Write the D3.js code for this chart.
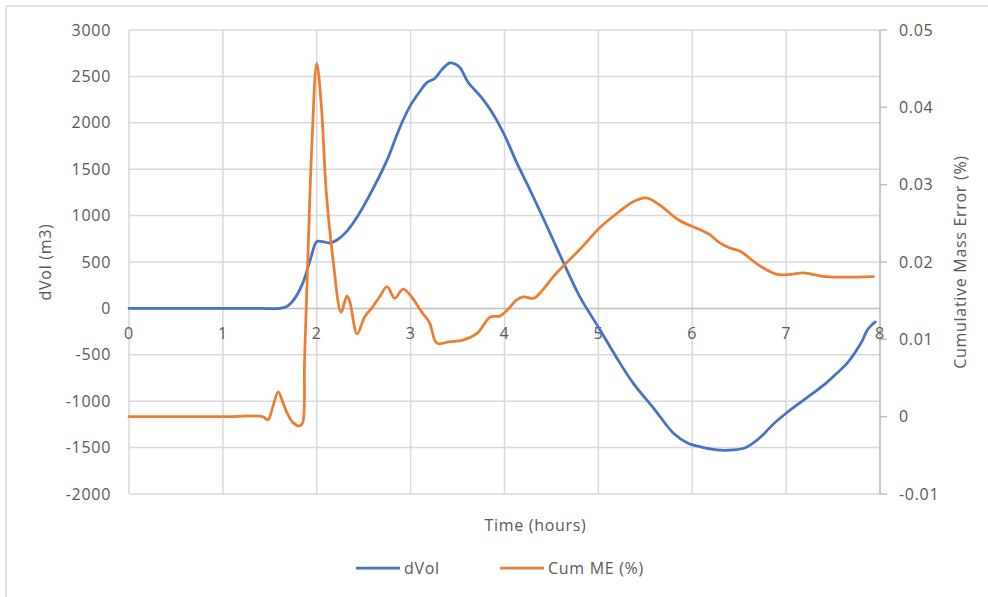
<!DOCTYPE html>
<html>
<head>
<meta charset="utf-8">
<script src="https://cdn.jsdelivr.net/npm/d3@7"></script>
<style>
  html, body { margin: 0; padding: 0; background: #fff; }
  svg text { font-family: "Open Sans", "Segoe UI", sans-serif; fill: #595959; letter-spacing: 0.7px; }
</style>
</head>
<body>
<svg id="chart" width="988" height="597"></svg>
<script>
// dVol (m3) over time (hours)
const dVolTime = [0, 0.5, 1.0, 1.4, 1.6, 1.68, 1.76, 1.85, 1.93, 2.0, 2.06, 2.14, 2.22, 2.32, 2.44, 2.6, 2.75, 2.85, 2.92, 3.0, 3.1, 3.17, 3.26, 3.33, 3.42, 3.48, 3.53, 3.61, 3.75, 3.85, 3.99, 4.13, 4.27, 4.45, 4.63, 4.8, 5.02, 5.2, 5.37, 5.6, 5.8, 5.95, 6.08, 6.26, 6.44, 6.56, 6.65, 6.76, 6.86, 7.0, 7.15, 7.29, 7.42, 7.54, 7.65, 7.75, 7.82, 7.86, 7.91, 7.95];
const dVolValues = [0, 0, 0, 0, 0, 20, 100, 270, 520, 720, 720, 705, 740, 830, 1000, 1290, 1600, 1860, 2030, 2190, 2340, 2430, 2480, 2570, 2645, 2630, 2590, 2440, 2280, 2140, 1890, 1570, 1280, 890, 490, 130, -235, -540, -805, -1090, -1345, -1450, -1490, -1525, -1525, -1505, -1450, -1355, -1250, -1130, -1015, -910, -810, -700, -590, -450, -330, -240, -180, -145];

// Cumulative mass error (%) over time (hours)
const cumMeTime = [0, 0.5, 1.0, 1.42, 1.48, 1.53, 1.59, 1.64, 1.68, 1.75, 1.82, 1.85, 1.87, 1.9, 1.95, 2.0, 2.05, 2.1, 2.17, 2.26, 2.32, 2.35, 2.43, 2.51, 2.59, 2.67, 2.75, 2.83, 2.92, 3.01, 3.12, 3.2, 3.28, 3.42, 3.56, 3.71, 3.85, 3.95, 4.03, 4.13, 4.2, 4.31, 4.4, 4.52, 4.66, 4.8, 5.02, 5.2, 5.37, 5.51, 5.65, 5.86, 6.08, 6.18, 6.29, 6.4, 6.51, 6.6, 6.72, 6.9, 7.05, 7.18, 7.43, 7.93];
const cumMeValues = [0, 0, 0, 0, -0.0004, 0.0012, 0.0032, 0.0018, 0.0006, -0.0008, -0.0012, -0.0008, 0.0073, 0.0185, 0.0357, 0.0457, 0.040, 0.0293, 0.0207, 0.0135, 0.0156, 0.015, 0.0107, 0.0129, 0.0141, 0.0155, 0.0168, 0.0153, 0.0165, 0.0155, 0.0135, 0.0122, 0.0095, 0.0097, 0.0099, 0.0108, 0.0129, 0.0130, 0.0138, 0.0151, 0.0155, 0.0153, 0.0163, 0.0181, 0.0199, 0.0216, 0.0245, 0.0263, 0.0278, 0.0283, 0.0274, 0.0254, 0.0242, 0.0236, 0.0225, 0.0218, 0.0214, 0.0206, 0.0195, 0.0184, 0.0184, 0.0186, 0.0181, 0.0181];

const xTicks = [0, 1, 2, 3, 4, 5, 6, 7, 8];
const leftTicks = [3000, 2500, 2000, 1500, 1000, 500, 0, -500, -1000, -1500, -2000];
const rightTicks = [0.05, 0.04, 0.03, 0.02, 0.01, 0, -0.01];

const svg = d3.select("#chart");
const plot = { left: 129, right: 880, top: 30, bottom: 494 };

const x = d3.scaleLinear().domain([0, 8]).range([plot.left, plot.right]);
const yL = d3.scaleLinear().domain([-2000, 3000]).range([plot.bottom, plot.top]);
const yR = d3.scaleLinear().domain([-0.01, 0.05]).range([plot.bottom, plot.top]);

// outer chart frame
svg.append("rect")
  .attr("x", 6).attr("y", 6).attr("width", 1000).attr("height", 620)
  .attr("fill", "none").attr("stroke", "#d9d9d9").attr("stroke-width", 1.5);

const grid = "#d9d9d9";

// horizontal gridlines
svg.append("g").selectAll("line").data(leftTicks.filter(d => d !== 0)).join("line")
  .attr("x1", plot.left).attr("x2", plot.right)
  .attr("y1", d => yL(d)).attr("y2", d => yL(d))
  .attr("stroke", grid).attr("stroke-width", 1.5);

// vertical gridlines
svg.append("g").selectAll("line").data(xTicks).join("line")
  .attr("x1", d => x(d)).attr("x2", d => x(d))
  .attr("y1", plot.top).attr("y2", plot.bottom)
  .attr("stroke", grid).attr("stroke-width", 1.5);

// horizontal axis along zero
svg.append("line")
  .attr("x1", plot.left).attr("x2", plot.right)
  .attr("y1", yL(0)).attr("y2", yL(0))
  .attr("stroke", "#bfbfbf").attr("stroke-width", 1.5);

// secondary axis line and ticks
svg.append("line")
  .attr("x1", plot.right).attr("x2", plot.right)
  .attr("y1", plot.top).attr("y2", plot.bottom)
  .attr("stroke", "#bfbfbf").attr("stroke-width", 1.5);
svg.append("g").selectAll("line").data(rightTicks).join("line")
  .attr("x1", plot.right).attr("x2", plot.right + 7)
  .attr("y1", d => yR(d)).attr("y2", d => yR(d))
  .attr("stroke", "#bfbfbf").attr("stroke-width", 1.5);

const fs = 16;

// left tick labels
svg.append("g").selectAll("text").data(leftTicks).join("text")
  .attr("x", 111).attr("y", d => yL(d))
  .attr("dy", "0.35em").attr("text-anchor", "end")
  .attr("font-size", fs).text(d => d);

// x tick labels, just below the zero line
svg.append("g").selectAll("text").data(xTicks).join("text")
  .attr("x", d => x(d)).attr("y", yL(0) + 25)
  .attr("dy", "0.35em").attr("text-anchor", "middle")
  .attr("font-size", fs).text(d => d);

// right tick labels
svg.append("g").selectAll("text").data(rightTicks).join("text")
  .attr("x", 899).attr("y", d => yR(d))
  .attr("dy", "0.35em").attr("text-anchor", "start")
  .attr("font-size", fs).text(d => d);

// axis titles
svg.append("text")
  .attr("transform", `translate(45,${(plot.top + plot.bottom) / 2}) rotate(-90)`)
  .attr("text-anchor", "middle").attr("dy", "0.35em")
  .attr("font-size", fs).text("dVol (m3)");
svg.append("text")
  .attr("transform", `translate(960,${(plot.top + plot.bottom) / 2}) rotate(-90)`)
  .attr("text-anchor", "middle").attr("dy", "0.35em")
  .attr("font-size", fs).text("Cumulative Mass Error (%)");
svg.append("text")
  .attr("x", (plot.left + plot.right) / 2 + 31).attr("y", 525)
  .attr("text-anchor", "middle").attr("dy", "0.35em")
  .attr("font-size", fs).text("Time (hours)");

// series
const blue = "#4472c4", orange = "#ed7d31";
const dVolData = dVolTime.map((t, i) => [t, dVolValues[i]]);
const cumData = cumMeTime.map((t, i) => [t, cumMeValues[i]]);

svg.append("path").datum(dVolData)
  .attr("fill", "none").attr("stroke", blue).attr("stroke-width", 2.75)
  .attr("stroke-linejoin", "round").attr("stroke-linecap", "round")
  .attr("d", d3.line().x(d => x(d[0])).y(d => yL(d[1])).curve(d3.curveCatmullRom.alpha(0.5)));

svg.append("path").datum(cumData)
  .attr("fill", "none").attr("stroke", orange).attr("stroke-width", 2.75)
  .attr("stroke-linejoin", "round").attr("stroke-linecap", "round")
  .attr("d", d3.line().x(d => x(d[0])).y(d => yR(d[1])).curve(d3.curveCatmullRom.alpha(0.5)));

// legend
const legend = [
  { name: "dVol", color: blue, x: 356 },
  { name: "Cum ME (%)", color: orange, x: 500 }
];
const lg = svg.append("g").selectAll("g").data(legend).join("g")
  .attr("transform", d => `translate(${d.x},568)`);
lg.append("line").attr("x1", 0).attr("x2", 44).attr("y1", 0).attr("y2", 0)
  .attr("stroke", d => d.color).attr("stroke-width", 2.75);
lg.append("text").attr("x", 48).attr("dy", "0.35em")
  .attr("font-size", fs).text(d => d.name);
</script>
</body>
</html>
